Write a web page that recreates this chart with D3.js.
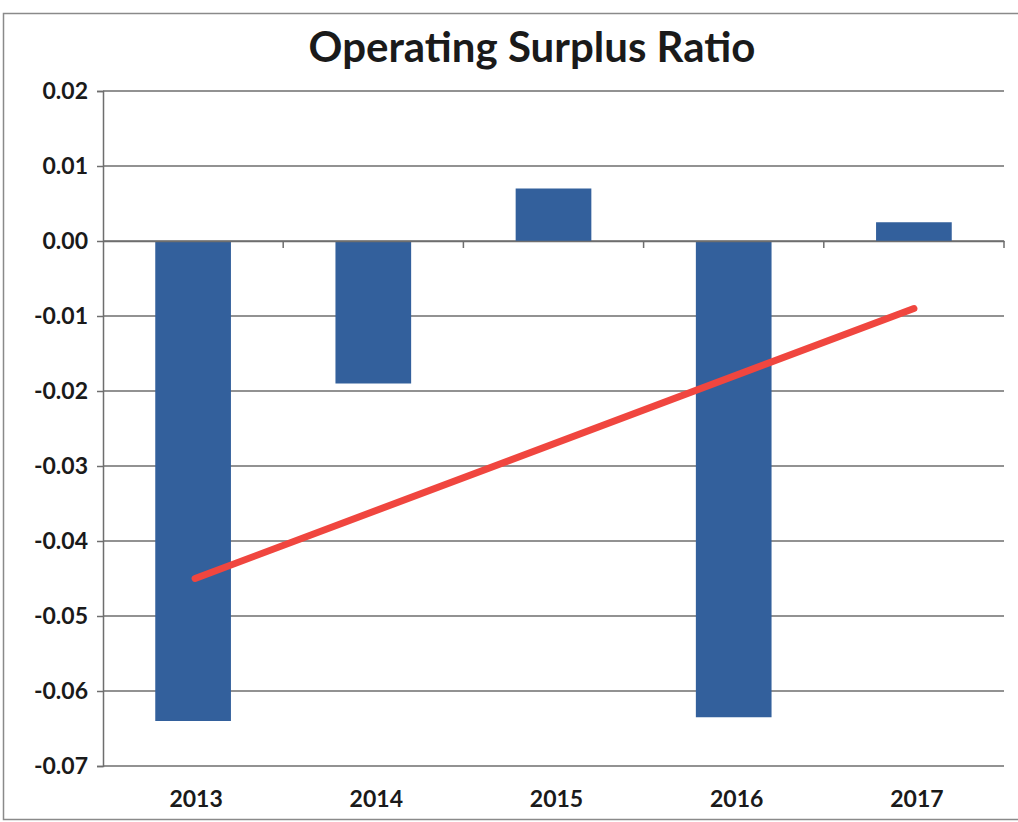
<!DOCTYPE html>
<html>
<head>
<meta charset="utf-8">
<script src="https://cdn.jsdelivr.net/npm/d3@7"></script>
<style>
  html, body { margin: 0; padding: 0; background: #fff; }
  svg { display: block; }
  text { font-family: Lato, "Open Sans", sans-serif; fill: #1a1a1a; }
</style>
</head>
<body>
<svg id="chart" width="1018" height="822"></svg>
<script>
// Operating surplus ratio by financial year
const years = ["2013", "2014", "2015", "2016", "2017"];
const ratios = [-0.064, -0.019, 0.007, -0.0635, 0.0025];
// Linear trend line end values (first and last year)
const trendEnds = [-0.045, -0.009];
const yTicks = [0.02, 0.01, 0.00, -0.01, -0.02, -0.03, -0.04, -0.05, -0.06, -0.07];
const chartTitle = "Operating Surplus Ratio";

const svg = d3.select("#chart");
const plot = { left: 103, right: 1004, top: 91, bottom: 766 };

const x = d3.scaleBand().domain(years).range([plot.left, plot.right]).padding(0);
const y = d3.scaleLinear().domain([-0.07, 0.02]).range([plot.bottom, plot.top]);

// Two-decimal labels with a plain hyphen for negatives
const fmt = d => (d < -1e-9 ? "-" : "") + Math.abs(d).toFixed(2);

// Outer chart frame
svg.append("rect")
  .attr("x", 3.5).attr("y", 13.5)
  .attr("width", 1040).attr("height", 806)
  .attr("fill", "none").attr("stroke", "#8a8a8a").attr("stroke-width", 1.5);

// Title
svg.append("text")
  .attr("x", 532).attr("y", 62)
  .attr("text-anchor", "middle")
  .attr("font-size", 42).attr("font-weight", "bold")
  .text(chartTitle);

// Horizontal gridlines
svg.append("g")
  .selectAll("line")
  .data(yTicks)
  .join("line")
  .attr("x1", plot.left).attr("x2", plot.right)
  .attr("y1", d => y(d)).attr("y2", d => y(d))
  .attr("stroke", "#6e6e6e").attr("stroke-width", 1.5);

// Y axis
const yAxis = d3.axisLeft(y).tickValues(yTicks).tickFormat(fmt).tickSize(6).tickPadding(9);
const gy = svg.append("g").attr("transform", `translate(${plot.left},0)`).call(yAxis);
gy.select(".domain").attr("stroke", "#6e6e6e").attr("stroke-width", 1.5);
gy.selectAll(".tick line").attr("stroke", "#6e6e6e").attr("stroke-width", 1.5);
gy.selectAll(".tick text")
  .attr("font-size", 23).attr("font-weight", "bold")
  .attr("font-family", "Lato, 'Open Sans', sans-serif").attr("fill", "#1a1a1a");

// Bars
const barW = x.bandwidth() * 0.42;
svg.append("g")
  .selectAll("rect")
  .data(years.map((yr, i) => ({ yr, v: ratios[i] })))
  .join("rect")
  .attr("x", d => x(d.yr) + (x.bandwidth() - barW) / 2)
  .attr("width", barW)
  .attr("y", d => y(Math.max(0, d.v)))
  .attr("height", d => Math.abs(y(d.v) - y(0)))
  .attr("fill", "#33609c");

// Category axis along zero
const xAxis = d3.axisBottom(x).tickSize(0).tickFormat("");
const gx = svg.append("g").attr("transform", `translate(0,${y(0)})`).call(xAxis);
gx.select(".domain").attr("stroke", "#6e6e6e").attr("stroke-width", 1.5);
// Category boundary tick marks
gx.append("g").selectAll("line")
  .data(years.slice(1).concat(["end"]))
  .join("line")
  .attr("x1", d => d === "end" ? plot.right : x(d))
  .attr("x2", d => d === "end" ? plot.right : x(d))
  .attr("y1", 0).attr("y2", 7)
  .attr("stroke", "#6e6e6e").attr("stroke-width", 1.5);

// Category labels below the plot
svg.append("g")
  .selectAll("text")
  .data(years)
  .join("text")
  .attr("x", d => x(d) + x.bandwidth() / 2 + 3)
  .attr("y", 807)
  .attr("text-anchor", "middle")
  .attr("font-size", 23).attr("font-weight", "bold")
  .text(d => d);

// Trend line
const xc = d => x(d) + x.bandwidth() / 2;
svg.append("line")
  .attr("x1", xc(years[0]) + 2).attr("y1", y(trendEnds[0]))
  .attr("x2", xc(years[years.length - 1])).attr("y2", y(trendEnds[1]))
  .attr("stroke", "#f0463f").attr("stroke-width", 7).attr("stroke-linecap", "round");
</script>
</body>
</html>
